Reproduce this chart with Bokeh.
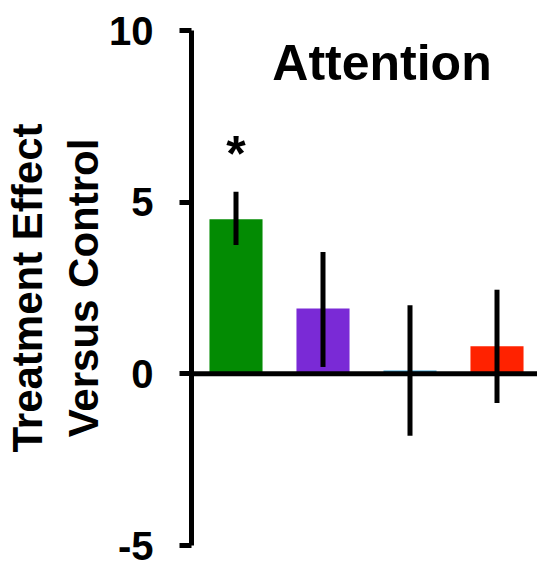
from bokeh.plotting import figure
from bokeh.models import Range1d, Span, Label, FixedTicker
from bokeh.embed import file_html
from bokeh.resources import INLINE

categories = ["Group A", "Group B", "Group C", "Group D"]
effects = [4.5, 1.9, 0.1, 0.8]
err_low = [3.75, 0.2, -1.8, -0.85]
err_high = [5.3, 3.55, 2.0, 2.45]
colors = ["#038b03", "#7a2ad6", "#3a9fd0", "#ff2200"]
y_ticks = [-5, 0, 5, 10]
y_tick_labels = {-5: "-5", 0: "0", 5: "5", 10: "10"}
title_text = "Attention"
sig_marks = ["*", "", "", ""]

FONT = "Liberation Sans"
xs = list(range(len(categories)))

p = figure(width=537, height=563, output_backend="svg", toolbar_location=None,
           x_range=Range1d(-0.5115, 3.4655), y_range=Range1d(-5, 10),
           min_border_left=191, min_border_right=0, min_border_top=30,
           min_border_bottom=18)
p.xaxis.visible = False
p.xgrid.visible = False
p.ygrid.visible = False
p.outline_line_color = None
p.background_fill_color = "white"
p.border_fill_color = "white"

p.vbar(x=xs, top=effects, bottom=0, width=0.61, fill_color=colors, line_color=None)
p.segment(x0=xs, y0=err_low, x1=xs, y1=err_high, line_color="black", line_width=5)

p.add_layout(Span(location=0, dimension="width", line_color="black", line_width=5))

ax = p.yaxis[0]
ax.ticker = FixedTicker(ticks=y_ticks)
ax.major_label_overrides = y_tick_labels
ax.bounds = (-5, 10)
ax.axis_line_width = 5
ax.major_tick_line_width = 5
ax.major_tick_out = 12
ax.major_tick_in = 0
ax.minor_tick_out = 0
ax.minor_tick_in = 0
ax.major_label_text_font = FONT
ax.major_label_text_font_style = "bold"
ax.major_label_text_font_size = "40px"
ax.major_label_text_color = "black"
ax.major_label_standoff = 26
ax.axis_label = "Treatment Effect\nVersus Control"
ax.axis_label_text_font = FONT
ax.axis_label_text_font_style = "bold"
ax.axis_label_text_font_size = "42px"
ax.axis_label_text_color = "black"
ax.axis_label_standoff = -1

p.add_layout(Label(x=1.678, y=9.04, text=title_text, text_font=FONT, text_font_style="bold",
                   text_font_size="50px", text_color="black",
                   text_align="center", text_baseline="alphabetic"))
for xi, m in zip(xs, sig_marks):
    if m:
        p.add_layout(Label(x=xi, y=6.4, text=m, text_font=FONT, text_font_style="bold",
                           text_font_size="50px", text_color="black",
                           text_align="center", text_baseline="alphabetic"))

open("out.html", "w").write(file_html(p, INLINE))
